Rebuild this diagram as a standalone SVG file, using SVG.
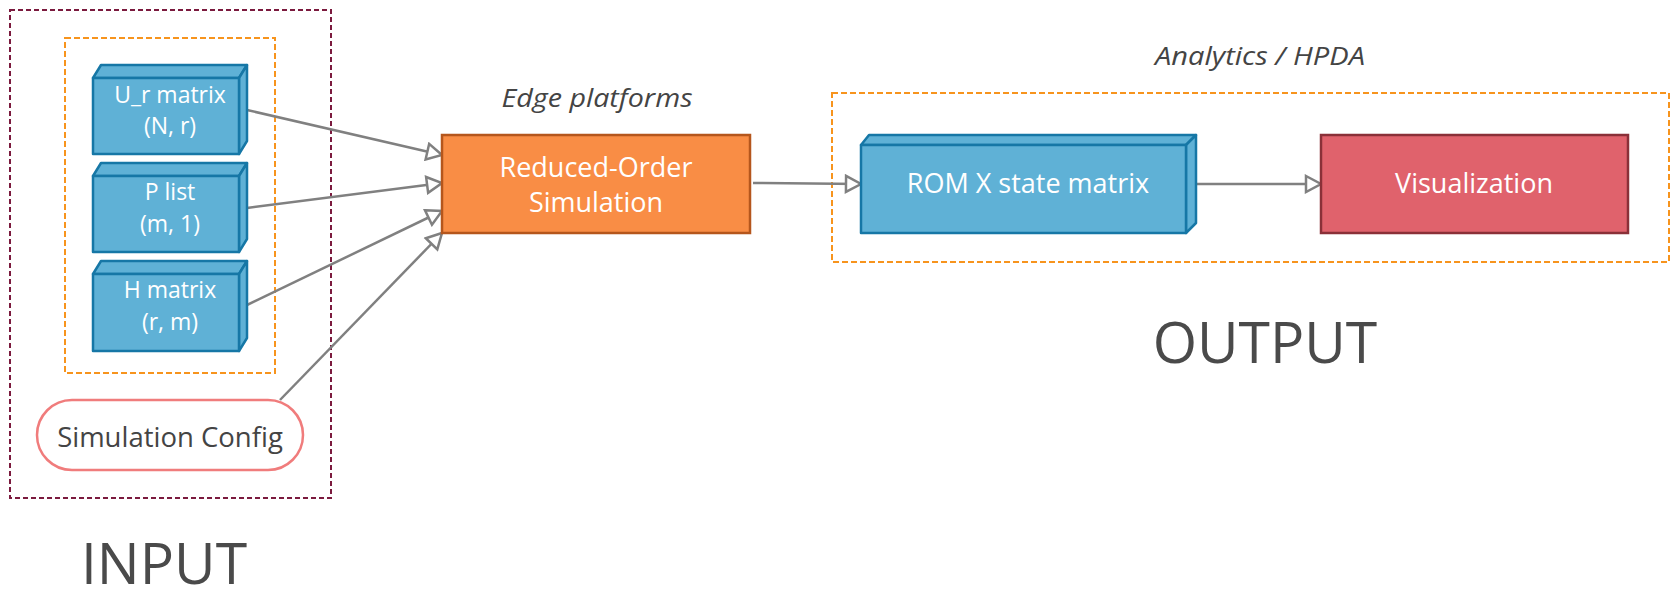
<svg xmlns="http://www.w3.org/2000/svg" width="1671" height="590" viewBox="0 0 1671 590">
<style>
text{font-family:"Open Sans","Noto Sans","Liberation Sans",sans-serif;}
.lbl{fill:#ffffff;font-size:23px;text-anchor:middle;}
.big{fill:#ffffff;font-size:27px;text-anchor:middle;}
.cap{fill:#444444;font-size:26px;font-style:italic;text-anchor:middle;}
.title{fill:#4a4a4a;font-size:57px;text-anchor:middle;}
.cube{fill:#5FB1D6;stroke:#1677A6;stroke-width:2.5;stroke-linejoin:round;}
.edge{fill:none;stroke:#808080;stroke-width:2.5;marker-end:url(#arr);}
.grp{fill:none;stroke-width:2;}
</style>
<defs>
<marker id="arr" markerUnits="userSpaceOnUse" markerWidth="20" markerHeight="20" viewBox="-2 -2 20 20" refX="15" refY="8" orient="auto">
<path d="M0,0 L15,8 L0,16 Z" fill="#ffffff" stroke="#808080" stroke-width="2.5" stroke-linejoin="miter"/>
</marker>
</defs>
<rect width="1671" height="590" fill="#ffffff"/>

<g id="input-group">
<rect class="grp" x="10" y="10" width="321" height="488" stroke="#7B1A3E" stroke-dasharray="5,3"/>
<rect class="grp" x="65" y="38" width="210" height="335" stroke="#F7941D" stroke-dasharray="6,3"/>
</g>
<g id="output-group">
<rect class="grp" x="832" y="93" width="837" height="169" stroke="#F7941D" stroke-dasharray="6,3"/>
</g>

<g id="connectors">
<line class="edge" x1="247" y1="110" x2="442" y2="155"/>
<line class="edge" x1="247" y1="208" x2="442" y2="183"/>
<line class="edge" x1="247" y1="305" x2="442" y2="211"/>
<line class="edge" x1="280" y1="400" x2="442" y2="233"/>
<line class="edge" x1="753" y1="183" x2="861" y2="184"/>
<line class="edge" x1="1196" y1="184" x2="1321" y2="184"/>
</g>

<g id="ur-matrix">
<path class="cube" d="M93,78 L101,65 L247,65 L239,78 Z"/>
<path class="cube" d="M239,78 L247,65 L247,141 L239,154 Z"/>
<rect class="cube" x="93" y="78" width="146" height="76"/>
<text class="lbl" x="170" y="103">U_r matrix</text>
<text class="lbl" x="170" y="134">(N, r)</text>
</g>

<g id="p-list">
<path class="cube" d="M93,176 L101,163 L247,163 L239,176 Z"/>
<path class="cube" d="M239,176 L247,163 L247,239 L239,252 Z"/>
<rect class="cube" x="93" y="176" width="146" height="76"/>
<text class="lbl" x="170" y="200">P list</text>
<text class="lbl" x="170" y="232">(m, 1)</text>
</g>

<g id="h-matrix">
<path class="cube" d="M93,274 L101,261 L247,261 L239,274 Z"/>
<path class="cube" d="M239,274 L247,261 L247,338 L239,351 Z"/>
<rect class="cube" x="93" y="274" width="146" height="77"/>
<text class="lbl" x="170" y="298">H matrix</text>
<text class="lbl" x="170" y="330">(r, m)</text>
</g>

<g id="sim-config">
<rect x="37" y="400" width="266" height="70" rx="35" ry="35" fill="#ffffff" stroke="#F07C7C" stroke-width="2.5"/>
<text x="170" y="447" font-size="27.5" fill="#444444" text-anchor="middle">Simulation Config</text>
</g>

<g id="rom-sim">
<text class="cap" x="597" y="107" textLength="191" lengthAdjust="spacingAndGlyphs">Edge platforms</text>
<rect x="442" y="135" width="308" height="98" fill="#F98D45" stroke="#B5561C" stroke-width="2.5"/>
<text class="big" x="596" y="177" font-size="26">Reduced-Order</text>
<text class="big" x="596" y="212" font-size="26">Simulation</text>
</g>

<g id="rom-x">
<path class="cube" d="M861,145 L869,135 L1196,135 L1186,145 Z"/>
<path class="cube" d="M1186,145 L1196,135 L1196,223 L1186,233 Z"/>
<rect class="cube" x="861" y="145" width="325" height="88"/>
<text class="big" x="1028" y="193">ROM X state matrix</text>
</g>

<g id="visualization">
<rect x="1321" y="135" width="307" height="98" fill="#E0626C" stroke="#8A3038" stroke-width="2.5"/>
<text class="big" x="1474" y="193">Visualization</text>
</g>

<g id="labels">
<text class="cap" x="1260" y="65" textLength="210" lengthAdjust="spacingAndGlyphs">Analytics / HPDA</text>
<text class="title" x="164" y="584">INPUT</text>
<text class="title" x="1265" y="363">OUTPUT</text>
</g>
</svg>
